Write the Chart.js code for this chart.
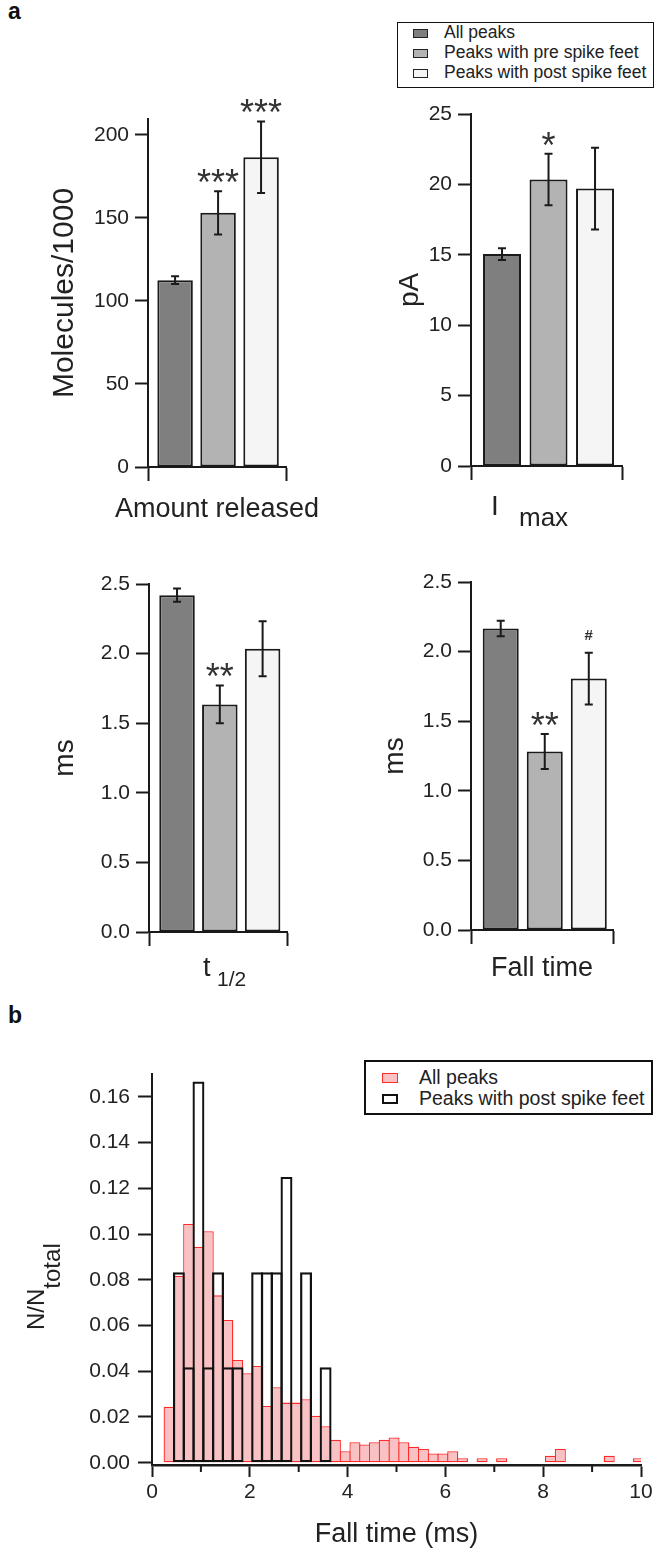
<!DOCTYPE html>
<html>
<head>
<meta charset="utf-8">
<script src="https://cdn.jsdelivr.net/npm/chart.js@4.4.1/dist/chart.umd.min.js"></script>
<style>
  html, body { margin: 0; padding: 0; background: #fff; }
  #page { position: relative; width: 662px; height: 1566px; overflow: hidden;
          font-family: 'Liberation Sans', Arial, sans-serif; color: #222; }
  canvas { position: absolute; }
  .txt { position: absolute; white-space: nowrap; line-height: 1; }
  .ctr { text-align: center; width: 300px; }
  .box { position: absolute; box-sizing: border-box; background: #fff; }
  .sw { position: absolute; box-sizing: border-box; }
</style>
</head>
<body>
<div id="page">
  <div class="txt" style="left:8px;top:0px;font-size:23px;font-weight:bold;color:#111">a</div>
  <div class="txt" style="left:8px;top:1004px;font-size:23px;font-weight:bold;color:#111">b</div>

  <!-- legend a -->
  <div class="box" style="left:397px;top:22px;width:257px;height:66px;border:1.5px solid #111"></div>
  <div class="sw" style="left:413px;top:28.5px;width:15px;height:9px;background:#7f7f7f;border:1.5px solid #222"></div>
  <div class="sw" style="left:413px;top:48.5px;width:15px;height:9px;background:#b3b3b3;border:1.5px solid #222"></div>
  <div class="sw" style="left:413px;top:68.5px;width:15px;height:9px;background:#f5f5f5;border:1.5px solid #222"></div>
  <div class="txt" style="left:444px;top:24.4px;font-size:17.5px">All peaks</div>
  <div class="txt" style="left:444px;top:44.4px;font-size:17.5px">Peaks with pre spike feet</div>
  <div class="txt" style="left:444px;top:64.4px;font-size:17.5px">Peaks with post spike feet</div>

  <canvas id="c1" width="330" height="450" style="left:0;top:90px"></canvas>
  <canvas id="c2" width="332" height="450" style="left:330px;top:90px"></canvas>
  <canvas id="c3" width="330" height="440" style="left:0;top:555px"></canvas>
  <canvas id="c4" width="332" height="440" style="left:330px;top:555px"></canvas>
  <canvas id="c5" width="662" height="566" style="left:0;top:1000px"></canvas>

  <!-- x titles of panel a -->
  <div class="txt ctr" style="left:67px;top:495px;font-size:27px">Amount released</div>
  <div class="txt" style="left:491px;top:492px;font-size:28px">I</div>
  <div class="txt" style="left:519px;top:504px;font-size:26px">max</div>
  <div class="txt" style="left:203px;top:954px;font-size:27px">t</div>
  <div class="txt" style="left:217px;top:968px;font-size:21px">1/2</div>
  <div class="txt ctr" style="left:392px;top:954px;font-size:27px">Fall time</div>
  <div class="txt" style="left:24px;top:1330px;font-size:24px;transform:rotate(-90deg);transform-origin:0 0">N/N<span style="position:relative;top:16px">total</span></div>

  <!-- legend b -->
  <div class="box" style="left:364px;top:1060px;width:289px;height:55px;border:2px solid #111"></div>
  <div class="sw" style="left:382px;top:1073px;width:16px;height:10px;background:#f8c1c4;border:1.5px solid #ff2a2a"></div>
  <div class="sw" style="left:382px;top:1094px;width:16px;height:10px;background:#fff;border:2px solid #111"></div>
  <div class="txt" style="left:419px;top:1068.4px;font-size:19.5px">All peaks</div>
  <div class="txt" style="left:419px;top:1089.4px;font-size:19.5px">Peaks with post spike feet</div>
</div>

<script>
// groups shown in panel a
var groups = ['All peaks', 'Peaks with pre spike feet', 'Peaks with post spike feet'];
var groupFill = ['#7f7f7f', '#b3b3b3', '#f5f5f5'];

var amountMean = [112.5, 153.0, 186.5];
var amountErr = [2.3, 13.0, 21.5];
var amountMarks = ['', '***', '***'];

var imaxMean = [15.05, 20.35, 19.7];
var imaxErr = [0.42, 1.83, 2.9];
var imaxMarks = ['', '*', ''];

var thalfMean = [2.42, 1.635, 2.035];
var thalfErr = [0.047, 0.136, 0.198];
var thalfMarks = ['', '**', ''];

var fallMean = [2.166, 1.282, 1.806];
var fallErr = [0.055, 0.126, 0.186];
var fallMarks = ['', '**', '#'];

// panel b histogram, 0.2 ms bins
var binCenters = [0.35, 0.55, 0.75, 0.95, 1.15, 1.35, 1.55, 1.75, 1.95, 2.15,
                  2.35, 2.55, 2.75, 2.95, 3.15, 3.35, 3.55, 3.75, 3.95, 4.15,
                  4.35, 4.55, 4.75, 4.95, 5.15, 5.35, 5.55, 5.75, 5.95, 6.15,
                  6.35, 6.55, 6.75, 6.95, 7.15, 7.35, 7.55, 7.75, 7.95, 8.15,
                  8.35, 8.55, 8.75, 8.95, 9.15, 9.35, 9.55, 9.75, 9.95];
var allPeaksHist = [0.0245, 0.0817, 0.1044, 0.0945, 0.1012, 0.0732, 0.0624, 0.0449, 0.0391, 0.0423,
                    0.0248, 0.0330, 0.0263, 0.0263, 0.0278, 0.0205, 0.0160, 0.0100, 0.0050, 0.0090,
                    0.0080, 0.0090, 0.0100, 0.0110, 0.0090, 0.0070, 0.0060, 0.0040, 0.0040, 0.0050,
                    0.0020, null, 0.0020, null, 0.0020, null, null, null, null, 0.0030,
                    0.0060, null, null, null, null, 0.0030, null, null, 0.0020];
var postFeetHist = [null, 0.0833, 0.0417, 0.1667, 0.0417, 0.0833, 0.0417, 0.0417, null, 0.0833,
                    0.0833, 0.0833, 0.125, null, 0.0833, null, 0.0417];
var histXTicks = [0, 2, 4, 6, 8, 10];

Chart.defaults.font.family = "'Liberation Sans', Arial, sans-serif";
Chart.defaults.color = '#222';
var AX = '#1a1a1a';

// error bars and significance marks on top of the bars
var errPlugin = {
  id: 'errbars',
  afterDatasetsDraw: function(chart) {
    var ctx = chart.ctx;
    var y = chart.scales.y;
    var ds = chart.data.datasets[0];
    var meta = chart.getDatasetMeta(0);
    ctx.save();
    ctx.strokeStyle = AX;
    ctx.lineWidth = 2;
    meta.data.forEach(function(bar, i) {
      var v = ds.data[i].y, e = ds.errs[i];
      var top = y.getPixelForValue(v + e), bot = y.getPixelForValue(v - e);
      ctx.beginPath();
      ctx.moveTo(bar.x, top); ctx.lineTo(bar.x, bot);
      ctx.moveTo(bar.x - 4, top); ctx.lineTo(bar.x + 4, top);
      ctx.moveTo(bar.x - 4, bot); ctx.lineTo(bar.x + 4, bot);
      ctx.stroke();
      var m = ds.marks[i];
      if (m) {
        ctx.fillStyle = '#333';
        ctx.textAlign = 'center';
        ctx.textBaseline = 'alphabetic';
        if (m === '#') {
          ctx.font = "bold 15px 'Liberation Sans', Arial";
          ctx.fillText(m, bar.x, top - 13);
        } else {
          ctx.font = "36px 'Liberation Sans', Arial";
          ctx.fillText(m, bar.x, top + 4);
        }
      }
    });
    ctx.restore();
  }
};

function barPanel(id, means, errs, marks, o) {
  return new Chart(document.getElementById(id), {
    type: 'bar',
    data: {
      datasets: [{
        label: o.name,
        data: means.map(function(v, i) { return {x: i, y: v}; }),
        errs: errs,
        marks: marks,
        backgroundColor: groupFill,
        borderColor: AX,
        borderWidth: 2,
        borderSkipped: false,
        barPercentage: o.barPct,
        categoryPercentage: 1
      }]
    },
    options: {
      responsive: false,
      animation: false,
      layout: {padding: o.pad},
      plugins: {legend: {display: false}, tooltip: {enabled: false}},
      scales: {
        x: {
          type: 'linear', min: o.xmin, max: o.xmax, offset: false,
          afterBuildTicks: function(s) { s.ticks = [{value: s.min}, {value: s.max}]; },
          afterFit: function(s) { s.height = o.xh; },
          ticks: {display: false},
          grid: {drawOnChartArea: false, drawTicks: true, tickLength: 14, tickWidth: 2, tickColor: AX, offset: false},
          border: {display: true, color: AX, width: 2}
        },
        y: {
          min: 0, max: o.ymax,
          afterFit: function(s) { s.width = o.yw; },
          ticks: {stepSize: o.step, includeBounds: false, font: {size: 21}, color: '#222', padding: 6,
                  callback: function(v) { return v.toFixed(o.dec); }},
          grid: {drawOnChartArea: false, tickLength: 13, tickWidth: 2, tickColor: AX},
          border: {color: AX, width: 2},
          title: {display: true, text: o.ytitle, font: {size: o.yfs}, color: '#222', padding: {top: o.ypt, bottom: 0}}
        }
      }
    },
    plugins: [errPlugin]
  });
}

barPanel('c1', amountMean, amountErr, amountMarks, {
  name: 'Amount released', pad: {left: 38, right: 44, top: 29, bottom: 0}, yw: 110, xh: 73,
  xmin: -0.63, xmax: 2.58, barPct: 0.826, ymax: 209.5, step: 50, dec: 0,
  ytitle: 'Molecules/1000', yfs: 30, ypt: 9
});
barPanel('c2', imaxMean, imaxErr, imaxMarks, {
  name: 'Imax', pad: {left: 60, right: 40, top: 24, bottom: 0}, yw: 81, xh: 74,
  xmin: -0.667, xmax: 2.58, barPct: 0.817, ymax: 25, step: 5, dec: 0,
  ytitle: 'pA', yfs: 28, ypt: 3
});
barPanel('c3', thalfMean, thalfErr, thalfMarks, {
  name: 't1/2', pad: {left: 40, right: 43, top: 29, bottom: 0}, yw: 109, xh: 63,
  xmin: -0.655, xmax: 2.57, barPct: 0.83, ymax: 2.5, step: 0.5, dec: 1,
  ytitle: 'ms', yfs: 28, ypt: 8
});
barPanel('c4', fallMean, fallErr, fallMarks, {
  name: 'Fall time', pad: {left: 45, right: 49, top: 27, bottom: 0}, yw: 96, xh: 65,
  xmin: -0.675, xmax: 2.55, barPct: 0.818, ymax: 2.5, step: 0.5, dec: 1,
  ytitle: 'ms', yfs: 28, ypt: 3
});

// short ticks between the labelled ones
var minorTicks = {
  id: 'minorTicks',
  afterDraw: function(chart) {
    var x = chart.scales.x, ctx = chart.ctx, yb = chart.chartArea.bottom;
    ctx.save();
    ctx.strokeStyle = AX;
    ctx.lineWidth = 2;
    for (var k = 0; k < histXTicks.length - 1; k++) {
      var px = x.getPixelForValue((histXTicks[k] + histXTicks[k + 1]) / 2);
      ctx.beginPath(); ctx.moveTo(px, yb); ctx.lineTo(px, yb + 7); ctx.stroke();
    }
    ctx.restore();
  }
};

new Chart(document.getElementById('c5'), {
  type: 'bar',
  data: {
    datasets: [{
      label: 'Peaks with post spike feet',
      data: postFeetHist.map(function(v, i) { return {x: binCenters[i], y: v}; }),
      backgroundColor: 'rgba(0,0,0,0)',
      borderColor: '#111',
      borderWidth: 2.2,
      borderSkipped: false,
      grouped: false,
      barPercentage: 1.22,
      categoryPercentage: 1,
      order: 0
    }, {
      label: 'All peaks',
      data: allPeaksHist.map(function(v, i) { return {x: binCenters[i], y: v}; }),
      backgroundColor: '#f8c1c4',
      borderColor: '#ff2a2a',
      borderWidth: 1.3,
      borderSkipped: false,
      grouped: false,
      barPercentage: 1.13,
      categoryPercentage: 1,
      order: 1
    }]
  },
  options: {
    responsive: false,
    animation: false,
    layout: {padding: {left: 0, right: 21, top: 74, bottom: 0}},
    plugins: {legend: {display: false}, tooltip: {enabled: false}},
    scales: {
      x: {
        type: 'linear', min: 0, max: 10, offset: false,
        afterBuildTicks: function(s) { s.ticks = histXTicks.map(function(v) { return {value: v}; }); },
        afterFit: function(s) { s.height = 101; },
        ticks: {font: {size: 21}, color: '#222', padding: 3, maxRotation: 0, autoSkip: false},
        grid: {drawOnChartArea: false, tickLength: 12, tickWidth: 2, tickColor: AX, offset: false},
        border: {color: AX, width: 2.5},
        title: {display: true, text: 'Fall time (ms)', font: {size: 27}, color: '#222', padding: {top: 0, bottom: 15}}
      },
      y: {
        min: -0.001, max: 0.17,
        afterFit: function(s) { s.width = 152; },
        ticks: {stepSize: 0.02, includeBounds: false, font: {size: 21}, color: '#222', padding: 8,
                callback: function(v) { return v.toFixed(2); }},
        grid: {drawOnChartArea: false, tickLength: 14, tickWidth: 2, tickColor: AX},
        border: {color: AX, width: 2}
      }
    }
  },
  plugins: [minorTicks]
});
</script>
</body>
</html>
